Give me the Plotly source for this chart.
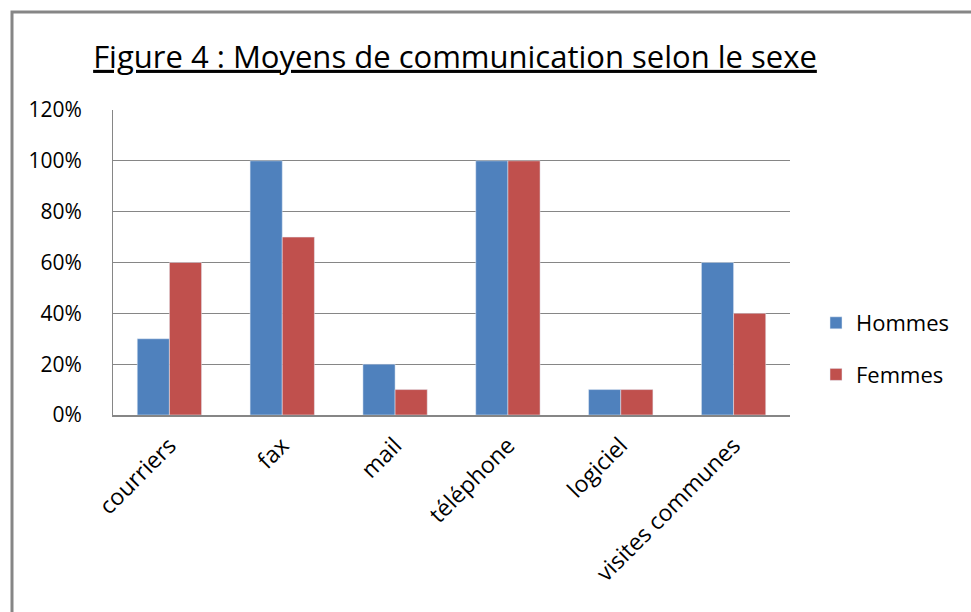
import plotly.graph_objects as go

categories = ["courriers", "fax", "mail", "téléphone", "logiciel", "visites communes"]
hommes = [0.30, 1.00, 0.20, 1.00, 0.10, 0.60]
femmes = [0.60, 0.70, 0.10, 1.00, 0.10, 0.40]
title_text = "Figure 4 : Moyens de communication selon le sexe"

FONT = "Open Sans"

fig = go.Figure()
fig.add_trace(go.Bar(x=categories, y=hommes, name="Hommes", marker_color="#4F81BD",
                     legendgroup="h"))
fig.add_trace(go.Bar(x=categories, y=femmes, name="Femmes", marker_color="#C0504D",
                     legendgroup="f"))

L, R, T, B = 113, 181, 110, 197
W, H = 971, 612
pw, ph = W - L - R, H - T - B

fig.update_layout(
    width=W, height=H,
    margin=dict(l=L, r=R, t=T, b=B),
    paper_bgcolor="white", plot_bgcolor="white",
    font=dict(family=FONT, size=21, color="black"),
    title=dict(text="<u>" + title_text + "</u>", x=455 / W, xanchor="center",
               y=1 - 57 / H, yanchor="middle", font=dict(size=31, family=FONT)),
    barmode="group", bargap=0.43, bargroupgap=0,
    showlegend=True,
    legend=dict(x=(816 - L) / pw, y=(415 - 349) / ph, xanchor="left", yanchor="middle",
                font=dict(size=22), tracegroupgap=20, traceorder="grouped"),
    xaxis=dict(showgrid=False, showline=True, linecolor="#868686", linewidth=2,
               tickangle=-45, ticks="", ticklabelstandoff=6, tickfont=dict(size=23)),
    yaxis=dict(range=[0, 1.2], dtick=0.2, tickformat=".0%", showgrid=True,
               gridcolor="#868686", gridwidth=1, showline=True, linecolor="#868686",
               linewidth=1, ticks="", ticklabelstandoff=26, zeroline=False),
    shapes=[dict(type="rect", xref="paper", yref="paper",
                 x0=(12 - L) / pw, x1=(1000 - L) / pw,
                 y0=(415 - 700) / ph, y1=(415 - 12) / ph,
                 line=dict(color="#868686", width=3), fillcolor="rgba(0,0,0,0)",
                 layer="below")],
)

fig.write_html("out.html", config={"displayModeBar": False},
               post_script="document.body.style.margin='0';document.body.style.overflow='hidden';")
